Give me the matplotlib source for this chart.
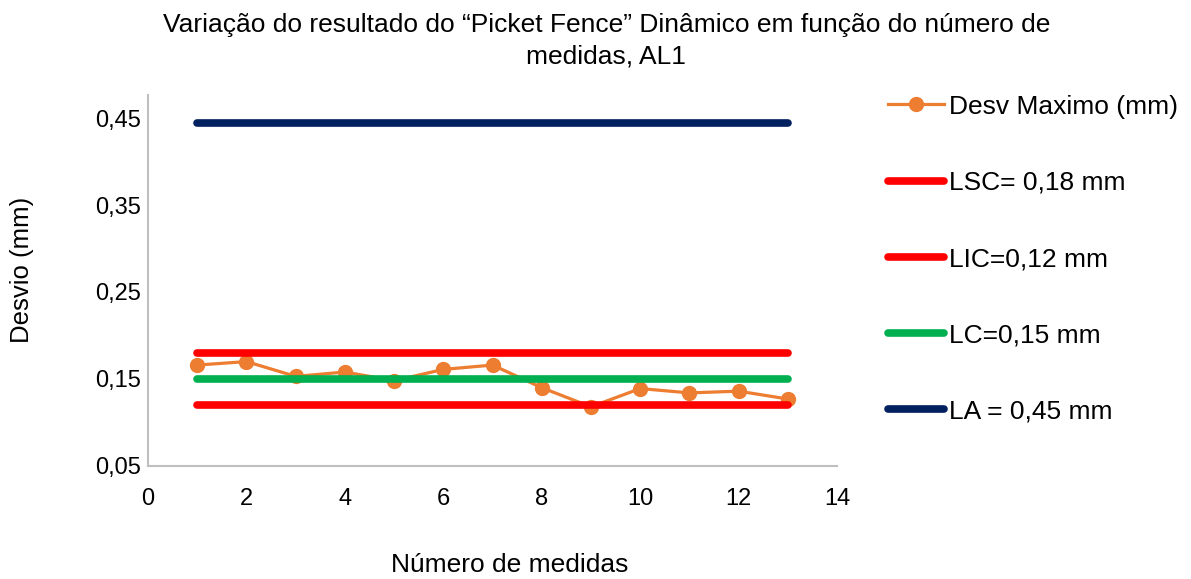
import matplotlib
matplotlib.use("Agg")
import matplotlib.pyplot as plt

plt.rcParams['font.family'] = ['Liberation Sans', 'DejaVu Sans']

# dados
medidas = [1, 2, 3, 4, 5, 6, 7, 8, 9, 10, 11, 12, 13]
desv_max = [0.166, 0.170, 0.153, 0.158, 0.148, 0.161, 0.166, 0.140, 0.118, 0.139, 0.134, 0.136, 0.127]
lsc = 0.18
lic = 0.12
lc = 0.15
la = 0.444

fig = plt.figure(figsize=(11.91, 5.79), dpi=100)
ax = fig.add_axes([0.1243, 0.1952, 0.5785, 0.6408])

n = len(medidas)
ax.plot(medidas, desv_max, color='#ED7D31', lw=2.3, marker='o', ms=10,
        label='Desv Maximo (mm)', zorder=2)
ax.plot(medidas, [lsc]*n, color='#FF0000', lw=5.5, solid_capstyle='round',
        label='LSC= 0,18 mm', zorder=3)
ax.plot(medidas, [lic]*n, color='#FF0000', lw=5.5, solid_capstyle='round',
        label='LIC=0,12 mm', zorder=3)
ax.plot(medidas, [lc]*n, color='#00B050', lw=5.5, solid_capstyle='round',
        label='LC=0,15 mm', zorder=3)
ax.plot(medidas, [la]*n, color='#002060', lw=5.5, solid_capstyle='round',
        label='LA = 0,45 mm', zorder=3)

ax.set_xlim(0, 14)
ax.set_ylim(0.05, 0.4765)
ax.set_xticks(range(0, 15, 2))
ax.set_yticks([0.05, 0.15, 0.25, 0.35, 0.45])
ax.set_yticklabels(['0,05', '0,15', '0,25', '0,35', '0,45'])
ax.tick_params(axis='both', length=0, labelsize=17)
ax.tick_params(axis='x', pad=16)
ax.tick_params(axis='y', pad=5)

for s in ['top', 'right']:
    ax.spines[s].set_visible(False)
for s in ['left', 'bottom']:
    ax.spines[s].set_color('#BFBFBF')
    ax.spines[s].set_linewidth(1.5)

ax.set_xlabel('Número de medidas', fontsize=19)
ax.set_ylabel('Desvio (mm)', fontsize=18.5)
ax.xaxis.set_label_coords(0.525, -0.267)
ax.xaxis.label.set_va('center')
ax.yaxis.set_label_coords(-0.183, 0.528)
ax.yaxis.label.set_va('center')

fig.text(0.509, 0.978, 'Variação do resultado do “Picket Fence” Dinâmico em função do número de\nmedidas, AL1',
         ha='center', va='top', fontsize=19, linespacing=1.4)

fig.legend(loc='upper left', bbox_to_anchor=(0.737, 0.855), frameon=False,
           fontsize=19, handlelength=2.1, handletextpad=0.2, labelspacing=1.98,
           borderaxespad=0)

fig.savefig('out.png', dpi=100)
